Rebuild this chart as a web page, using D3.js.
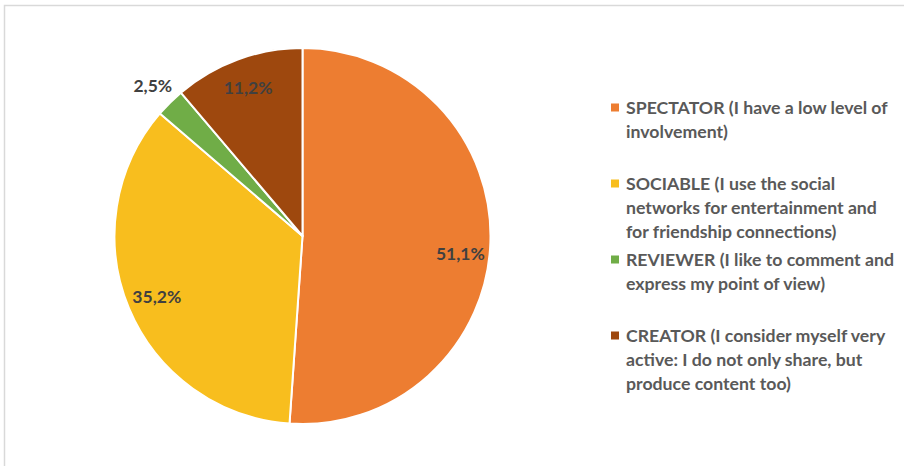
<!DOCTYPE html>
<html>
<head>
<meta charset="utf-8">
<script src="https://cdn.jsdelivr.net/npm/d3@7"></script>
<style>
  html, body { margin: 0; padding: 0; background: #fff; }
  svg { display: block; }
</style>
</head>
<body>
<svg id="chart" width="904" height="466"></svg>
<script>
// Profile categories, clockwise from 12 o'clock
const categories = ["SPECTATOR", "SOCIABLE", "REVIEWER", "CREATOR"];
const values = [51.1, 35.2, 2.5, 11.2];
const valueLabels = ["51,1%", "35,2%", "2,5%", "11,2%"];
const legendLines = [
  ["SPECTATOR (I have a low level of", "involvement)"],
  ["SOCIABLE (I use the social", "networks for entertainment and", "for friendship connections)"],
  ["REVIEWER (I like to comment and", "express my point of view)"],
  ["CREATOR (I consider myself very", "active: I do not only share, but", "produce content too)"]
];
const colors = ["#ED7D31", "#F8BE1E", "#70AD47", "#9E480E"];

const svg = d3.select("#chart");
const W = 904, H = 466;

// light frame along the top and left edges
svg.append("path")
  .attr("d", `M4.5,${H} L4.5,5.5 L${W},5.5`)
  .attr("fill", "none")
  .attr("stroke", "#d9d9d9")
  .attr("stroke-width", 1.5);

const cx = 302.5, cy = 236, radius = 188;
const g = svg.append("g").attr("transform", `translate(${cx},${cy})`);

const pie = d3.pie().sort(null).value(d => d.value);
const arcs = pie(categories.map((c, i) => ({ cat: c, value: values[i], label: valueLabels[i], color: colors[i] })));

const arc = d3.arc().innerRadius(0).outerRadius(radius);

g.selectAll("path.slice")
  .data(arcs)
  .join("path")
  .attr("class", "slice")
  .attr("d", arc)
  .attr("fill", d => d.data.color)
  .attr("stroke", "#fff")
  .attr("stroke-width", 2)
  .attr("stroke-linejoin", "round");

// data labels: inside for large slices, just outside for small ones
const labelFactor = d => (d.data.value < 5 ? 1.13 : 0.84);
const labelShift = [[0, 12], [0, 0], [0, 0], [0, 0]];
const labelPos = (d, i) => {
  const r = radius * labelFactor(d);
  const c = d3.arc().innerRadius(r).outerRadius(r).centroid(d);
  return [c[0] + labelShift[i][0], c[1] + labelShift[i][1]];
};
g.selectAll("text.val")
  .data(arcs)
  .join("text")
  .attr("class", "val")
  .attr("x", (d, i) => labelPos(d, i)[0])
  .attr("y", (d, i) => labelPos(d, i)[1])
  .attr("text-anchor", "middle")
  .attr("dominant-baseline", "central")
  .attr("font-family", "Lato, 'Open Sans', sans-serif")
  .attr("font-weight", "bold")
  .attr("font-size", 17.5)
  .attr("fill", "#404040")
  .text(d => d.data.label);

// legend
const legendX = 611, legendTop = 107.5, entryGap = 76, lineH = 23.8;
const legend = svg.append("g");
const entries = legend.selectAll("g.entry")
  .data(categories)
  .join("g")
  .attr("class", "entry")
  .attr("transform", (d, i) => `translate(${legendX},${legendTop + i * entryGap})`);

entries.append("rect")
  .attr("x", 0).attr("y", -4)
  .attr("width", 8).attr("height", 8)
  .attr("fill", (d, i) => colors[i]);

entries.each(function (d, i) {
  const t = d3.select(this).append("text")
    .attr("font-family", "Lato, 'Open Sans', sans-serif")
    .attr("font-weight", "bold")
    .attr("font-size", 17.7)
    .attr("fill", "#595959");
  legendLines[i].forEach((line, k) => {
    t.append("tspan")
      .attr("x", 15)
      .attr("y", k * lineH)
      .attr("dominant-baseline", "central")
      .text(line);
  });
});
</script>
</body>
</html>
